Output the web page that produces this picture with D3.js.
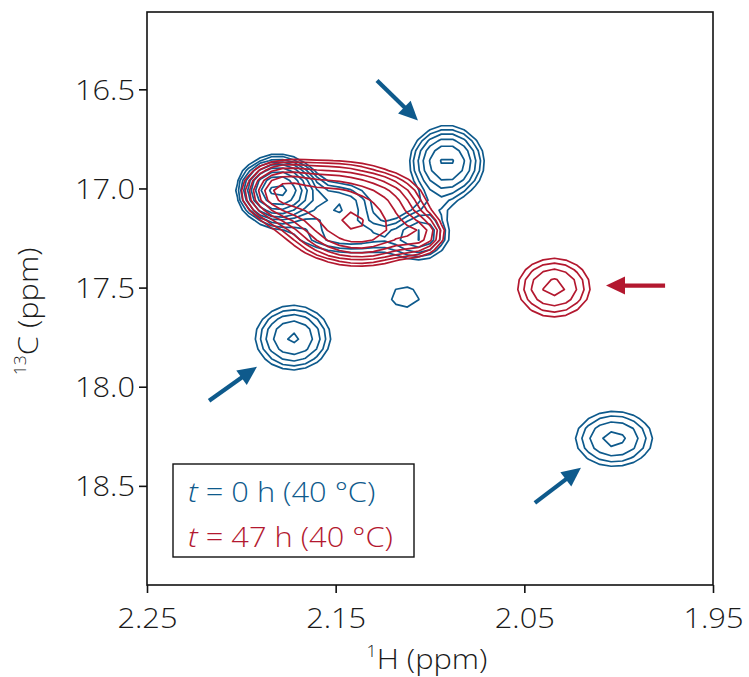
<!DOCTYPE html>
<html>
<head>
<meta charset="utf-8">
<script src="https://cdn.jsdelivr.net/npm/d3@7"></script>
<style>
  body { margin: 0; background: #fff; }
  text { font-family: "Open Sans", "Liberation Sans", Arial, sans-serif; font-weight: 350; }
</style>
</head>
<body>
<svg id="chart" width="749" height="677"></svg>
<script>
// axis ranges (ppm)
const hDomain = [2.25, 1.95];
const cDomain = [16.11, 19.0];
const hTicks = [2.25, 2.15, 2.05, 1.95];
const cTicks = [16.5, 17.0, 17.5, 18.0, 18.5];

// peaks: [1H ppm, 13C ppm, 1H width, 13C width, height]
const bluePeaks = [
  [2.0910, 16.869, 0.0118, 0.112, 3.9],
  [2.1042, 17.227, 0.0095, 0.085, 2.4],
  [2.0960, 17.070, 0.0070, 0.060, 0.45],
  [2.1133, 17.550, 0.0143, 0.100, 1.15],
  [2.1726, 17.753, 0.0133, 0.109, 3.0],
  [2.0025, 18.263, 0.0153, 0.104, 2.4],
  [2.1806, 17.010, 0.0105, 0.085, 9.0],
  [2.1477, 17.086, 0.0130, 0.085, 2.2],
  [2.1398, 17.253, 0.0240, 0.060, 1.8]
];
const redPeaks = [
  [2.0343, 17.500, 0.0144, 0.111, 2.4],
  [2.1795, 17.010, 0.0110, 0.080, 3.5],
  [2.1530, 17.050, 0.0200, 0.105, 5.0],
  [2.1371, 17.225, 0.0190, 0.090, 5.0],
  [2.1053, 17.232, 0.0080, 0.060, 2.2],
  [2.1212, 17.060, 0.0140, 0.090, 1.5]
];

// contour levels (relative to the noise floor)
const levels = [1, 1.3, 1.69, 2.2, 2.86, 3.71, 4.83, 6.27, 8.16, 10.6];

// arrows: [tail 1H, tail 13C, tip 1H, tip 13C]
const blueArrows = [
  [2.1281, 16.455, 2.1064, 16.657],
  [2.2171, 18.071, 2.1917, 17.899],
  [2.0444, 18.586, 2.0200, 18.409]
];
const redArrows = [
  [1.9754, 17.490, 2.0067, 17.490]
];

const legendLabels = [
  {t: 't', rest: ' = 0 h (40 °C)', key: 'blue'},
  {t: 't', rest: ' = 47 h (40 °C)', key: 'red'}
];

const colors = {blue: '#0e5a8c', red: '#b3182f'};

const margin = {top: 12, right: 36, bottom: 92, left: 147};
const W = 749, H = 677;
const iw = W - margin.left - margin.right;
const ih = H - margin.top - margin.bottom;
const fs = 28;
const stretch = 1.1; // the original lettering is a little wider

const svg = d3.select('#chart');
const g = svg.append('g').attr('transform', `translate(${margin.left},${margin.top})`);

const x = d3.scaleLinear().domain(hDomain).range([0, iw]);
const y = d3.scaleLinear().domain(cDomain).range([0, ih]);

g.append('clipPath').attr('id', 'clip')
  .append('rect').attr('width', iw).attr('height', ih);

// sample grid for the contours (coarse, like the original spectra)
const dh = 0.006, dc = 0.05;
const nx = Math.round((hDomain[0] - hDomain[1]) / dh) + 1;
const ny = Math.round((cDomain[1] - cDomain[0]) / dc) + 2;

function gridFor(peaks) {
  const vals = new Array(nx * ny);
  for (let j = 0; j < ny; j++) {
    const c = cDomain[0] + j * dc;
    for (let i = 0; i < nx; i++) {
      const h = hDomain[0] - i * dh;
      let v = 0;
      peaks.forEach(([h0, c0, wh, wc, a]) => {
        const u = (h - h0) / wh, w = (c - c0) / wc;
        v += a * Math.exp(-0.5 * (u * u + w * w));
      });
      vals[j * nx + i] = v;
    }
  }
  return vals;
}

// grid coords -> pixels (sample i sits at i + 0.5)
const toPx = d3.geoTransform({
  point(gx, gy) {
    this.stream.point(x(hDomain[0] - (gx - 0.5) * dh), y(cDomain[0] + (gy - 0.5) * dc));
  }
});
const path = d3.geoPath(toPx);
const contourGen = d3.contours().size([nx, ny]).thresholds(levels);

const plot = g.append('g').attr('clip-path', 'url(#clip)');

function drawSpectrum(peaks, key) {
  plot.append('g')
    .attr('class', 'spectrum-' + key)
    .selectAll('path')
    .data(contourGen(gridFor(peaks)))
    .join('path')
    .attr('d', path)
    .attr('fill', 'none')
    .attr('stroke', colors[key])
    .attr('stroke-width', 1.7)
    .attr('stroke-linejoin', 'round');
}
drawSpectrum(bluePeaks, 'blue');
drawSpectrum(redPeaks, 'red');

// arrows
function drawArrows(list, key) {
  list.forEach(([h1, c1, h2, c2]) => {
    const x1 = x(h1), y1 = y(c1), x2 = x(h2), y2 = y(c2);
    const ang = Math.atan2(y2 - y1, x2 - x1);
    const headLen = 19, headW = 9;
    const bx = x2 - headLen * Math.cos(ang), by = y2 - headLen * Math.sin(ang);
    const px = -Math.sin(ang), py = Math.cos(ang);
    g.append('line')
      .attr('x1', x1).attr('y1', y1).attr('x2', bx + 2 * Math.cos(ang)).attr('y2', by + 2 * Math.sin(ang))
      .attr('stroke', colors[key]).attr('stroke-width', 4.2);
    g.append('path')
      .attr('d', `M${x2},${y2}L${bx + px * headW},${by + py * headW}L${bx - px * headW},${by - py * headW}Z`)
      .attr('fill', colors[key]);
  });
}
drawArrows(blueArrows, 'blue');
drawArrows(redArrows, 'red');

// frame
g.append('rect').attr('width', iw).attr('height', ih)
  .attr('fill', 'none').attr('stroke', '#111').attr('stroke-width', 1.6);

const xAxis = g.append('g').attr('transform', `translate(0,${ih})`)
  .call(d3.axisBottom(x).tickValues(hTicks).tickFormat(d3.format('.2f')).tickSizeOuter(0).tickSize(8));
const yAxis = g.append('g')
  .call(d3.axisLeft(y).tickValues(cTicks).tickFormat(d3.format('.1f')).tickSizeOuter(0).tickSize(8));
[xAxis, yAxis].forEach(a => {
  a.select('.domain').remove();
  a.selectAll('line').attr('stroke', '#111').attr('stroke-width', 1.6);
  a.selectAll('text').attr('font-size', fs).attr('fill', '#1a1a1a')
    .attr('font-family', '"Open Sans", "Liberation Sans", Arial, sans-serif')
    .attr('transform', `scale(${stretch},1)`);
});
xAxis.selectAll('text').attr('y', 43).attr('dy', null);
yAxis.selectAll('text').attr('x', -12 / stretch).attr('dy', '0.36em');

// axis titles
const xt = svg.append('text')
  .attr('transform', `translate(${margin.left + iw / 2 - 3},669) scale(${stretch},1)`)
  .attr('text-anchor', 'middle').attr('font-size', fs).attr('fill', '#1a1a1a');
xt.append('tspan').attr('font-size', 16).attr('dy', -12).text('1');
xt.append('tspan').attr('dy', 12).text('H (ppm)');

const yt = svg.append('text')
  .attr('transform', `translate(38,${margin.top + y(17.62)}) rotate(-90) scale(${stretch},1)`)
  .attr('text-anchor', 'middle').attr('font-size', fs).attr('fill', '#1a1a1a');
yt.append('tspan').attr('font-size', 16).attr('dy', -12).text('13');
yt.append('tspan').attr('dy', 12).text('C (ppm)');

// legend
const lg = svg.append('g').attr('transform', 'translate(173,464)');
lg.append('rect').attr('width', 241).attr('height', 93)
  .attr('fill', '#fff').attr('stroke', '#111').attr('stroke-width', 1.4);
legendLabels.forEach((d, i) => {
  const t = lg.append('text')
    .attr('transform', `translate(15,${38 + i * 45}) scale(${stretch},1)`)
    .attr('font-size', fs).attr('fill', colors[d.key]);
  t.append('tspan').attr('font-style', 'italic').text(d.t);
  t.append('tspan').text(d.rest);
});
</script>
</body>
</html>
